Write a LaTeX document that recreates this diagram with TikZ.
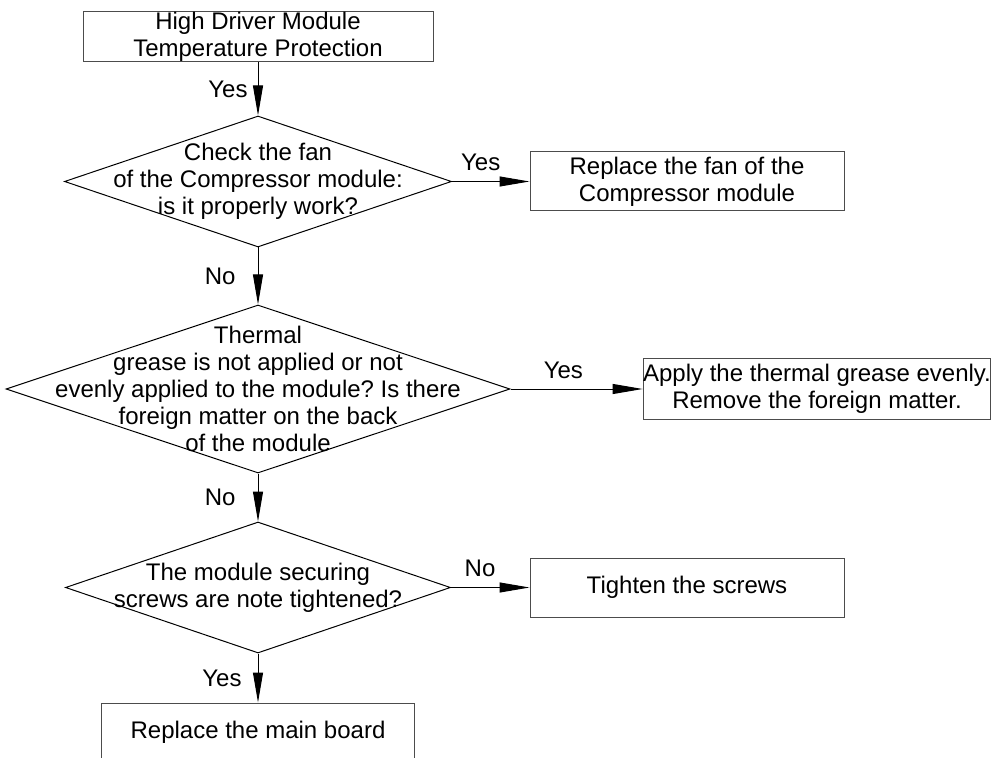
\documentclass[tikz,border=0pt]{standalone}
\usepackage{fontspec}
\setmainfont{Liberation Sans}
\usetikzlibrary{arrows.meta,shapes.geometric,positioning}
\frenchspacing

\begin{document}
\begin{tikzpicture}[->, >={Triangle[length=15pt,width=5pt]}, auto, line width=0.5pt,
  box/.style={draw=black!70, rectangle, align=center, inner sep=0pt},
  decision/.style={draw, diamond, inner sep=0pt},
  tag/.style={inner sep=5pt}]
%
\fontsize{12}{13.5}\selectfont
\useasboundingbox (0,0) rectangle (499.5pt,-379pt);
%
\node (T0) [box, minimum width=175pt, minimum height=25pt] at (129pt,-18.5pt) {High Driver Module\\Temperature Protection};
\node (Q1) [decision, below of=T0, node distance=72.25pt, minimum width=193.5pt, minimum height=65.5pt,
  label={[align=center]center:{Check the fan\\of the Compressor module:\\is it properly work?}}] {};
\node (A1) [box, right of=Q1, node distance=214.5pt, minimum width=157pt, minimum height=29.5pt] {Replace the fan of the\\Compressor module};
\node (Q2) [decision, below of=Q1, node distance=103.75pt, minimum width=252pt, minimum height=84pt,
  label={[align=center]center:{Thermal\\grease is not applied or not\\evenly applied to the module? Is there\\foreign matter on the back\\of the module}}] {};
\node (A2) [box, right of=Q2, node distance=279.5pt, minimum width=173pt, minimum height=30pt] {Apply the thermal grease evenly.\\Remove the foreign matter.};
\node (Q3) [decision, below of=Q2, node distance=99.25pt, minimum width=192.5pt, minimum height=65.5pt,
  label={[align=center]center:{The module securing\\screws are note tightened?}}] {};
\node (A3) [box, right of=Q3, node distance=214.5pt, minimum width=157pt, minimum height=29.5pt] {Tighten the screws};
\node (A4) [box, below of=Q3, node distance=72.5pt, minimum width=156.5pt, minimum height=29.5pt] {Replace the main board};
%
\path (T0) edge node[swap, tag] {Yes} (Q1);
\path (Q1) edge node[tag, pos=0.37] {Yes} (A1);
\path (Q1) edge node[swap, tag, xshift=-6pt] {No} (Q2);
\path (Q2) edge node[tag, pos=0.4] {Yes} (A2);
\path (Q2) edge node[swap, tag, xshift=-6pt] {No} (Q3);
\path (Q3) edge node[tag, pos=0.37] {No} (A3);
\path (Q3) edge node[swap, tag, xshift=-3pt] {Yes} (A4);
\end{tikzpicture}
\end{document}
